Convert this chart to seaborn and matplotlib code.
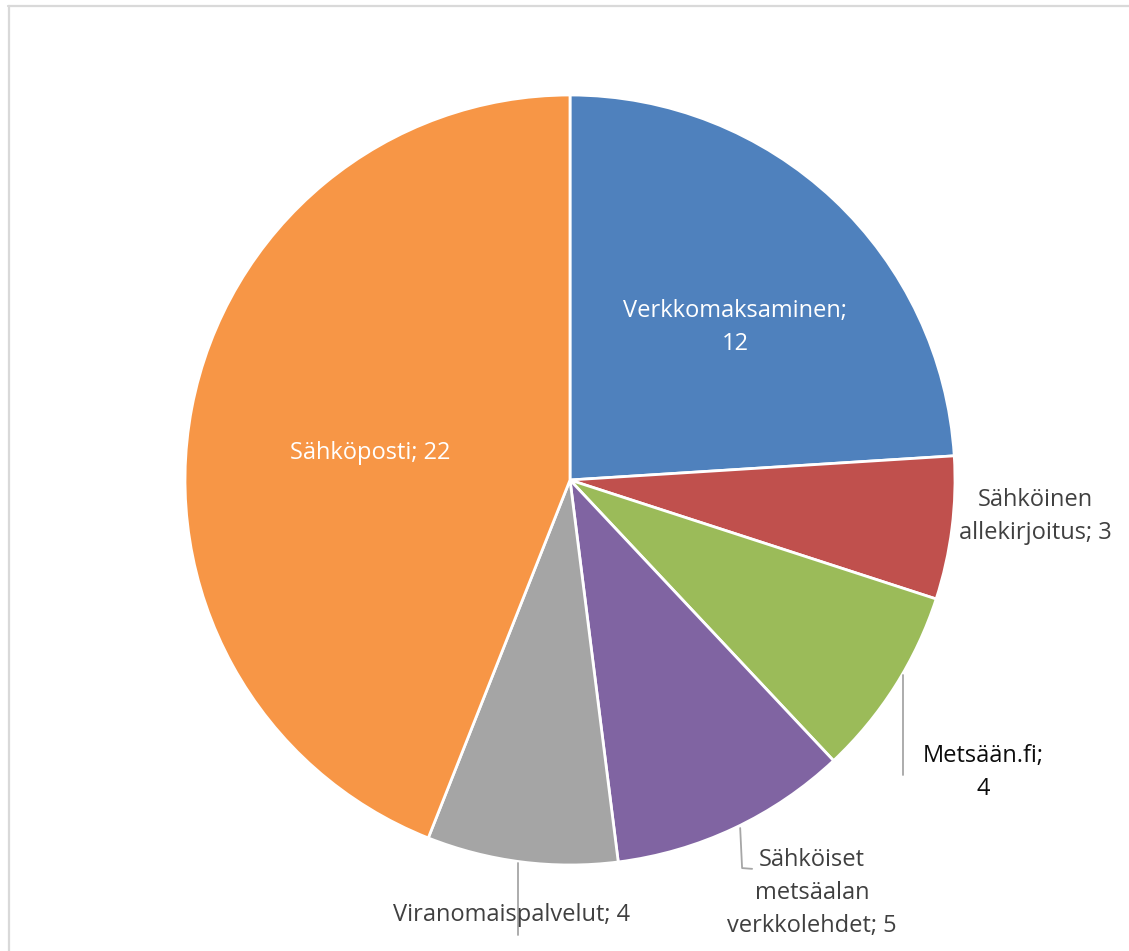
import matplotlib
matplotlib.use("Agg")
import matplotlib.pyplot as plt
from matplotlib.lines import Line2D
import seaborn as sns

# Survey answers: electronic services used
categories = [
    "Verkkomaksaminen",
    "Sähköinen\nallekirjoitus",
    "Metsään.fi",
    "Sähköiset\nmetsäalan\nverkkolehdet",
    "Viranomaispalvelut",
    "Sähköposti",
]
values = [12, 3, 4, 5, 4, 22]
colors = ["#4F81BD", "#C0504D", "#9BBB59", "#8064A2", "#A5A5A5", "#F79646"]

sns.set_theme(style="white")
plt.rcParams["font.family"] = ["Open Sans", "DejaVu Sans"]

W, H, DPI = 1129, 951, 100
fig = plt.figure(figsize=(W / DPI, H / DPI), dpi=DPI)
fig.patch.set_facecolor("white")

# chart frame (only top and left edges fall inside the canvas)
fig.add_artist(Line2D([8 / W, 1.0], [1 - 6 / H, 1 - 6 / H], color="#d9d9d9", lw=1.6))
fig.add_artist(Line2D([9 / W, 9 / W], [0.0, 1 - 6 / H], color="#d9d9d9", lw=1.6))

cx, cy, r = 570, 480, 385
ax = fig.add_axes([(cx - r) / W, (H - cy - r) / H, 2 * r / W, 2 * r / H])
ax.axis("off")

ax.pie(
    values,
    colors=colors,
    startangle=90,
    counterclock=False,
    radius=1,
    wedgeprops=dict(edgecolor="white", linewidth=2.0),
)
ax.set_xlim(-1, 1)
ax.set_ylim(-1, 1)
ax.set_aspect("equal")

fs = 17
labels = [f"{c}; {v}" for c, v in zip(categories, values)]
labels[0] = f"{categories[0]};\n{values[0]}"
labels[2] = f"{categories[2]};\n{values[2]}"

# label positions in axes data units and styling
label_pos = [(0.429, 0.397), (1.210, -0.096), (1.073, -0.761),
             (0.629, -1.073), (-0.151, -1.130), (-0.519, 0.070)]
label_col = ["white", "#404040", "#0d0d0d", "#404040", "#404040", "white"]
for txt, (x, y), col in zip(labels, label_pos, label_col):
    ax.text(x, y, txt, ha="center", va="center", fontsize=fs, color=col,
            linespacing=1.5, clip_on=False)

# leader lines for the outside labels
lc = "#a6a6a6"
ax.plot([0.865, 0.865], [-0.506, -0.766], color=lc, lw=1.3, clip_on=False)
ax.plot([0.442, 0.447, 0.473], [-0.904, -1.008, -1.010], color=lc, lw=1.3, clip_on=False)
ax.plot([-0.135, -0.135], [-0.995, -1.182], color=lc, lw=1.3, clip_on=False)

fig.savefig("out.png", dpi=DPI, facecolor="white")
